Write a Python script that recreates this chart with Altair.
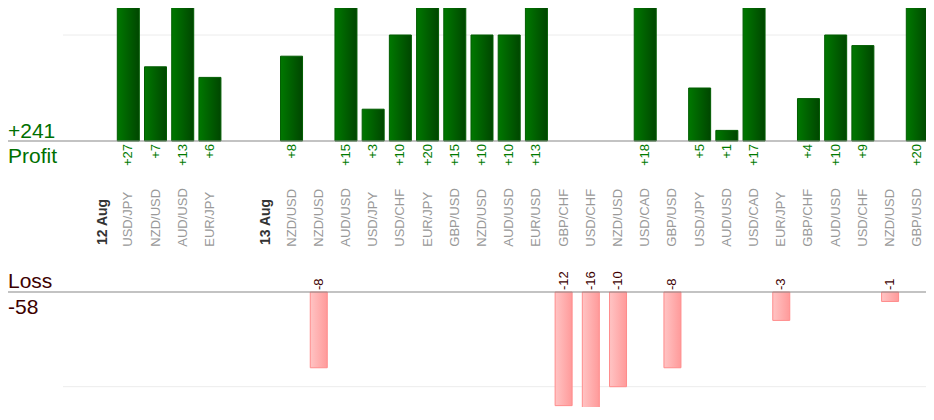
import altair as alt
import pandas as pd

# ---- data ----
slot_labels = ["12 Aug", "USD/JPY", "NZD/USD", "AUD/USD", "EUR/JPY", "", "13 Aug",
               "NZD/USD", "NZD/USD", "AUD/USD", "USD/JPY", "USD/CHF", "EUR/JPY", "GBP/USD",
               "NZD/USD", "AUD/USD", "EUR/USD", "GBP/CHF", "USD/CHF", "NZD/USD", "USD/CAD",
               "GBP/USD", "USD/JPY", "AUD/USD", "USD/CAD", "EUR/JPY", "GBP/CHF", "AUD/USD",
               "USD/CHF", "NZD/USD", "GBP/USD"]
date_slots = [0, 6]
results = [None, 27, 7, 13, 6, None, None,
           8, -8, 15, 3, 10, 20, 15,
           10, 10, 13, -12, -16, -10, 18,
           -8, 5, 1, 17, -3, 4, 10,
           9, -1, 20]
grid_profit = [10]
grid_loss = [-10]

rows = []
for i, (lab, r) in enumerate(zip(slot_labels, results)):
    rows.append({
        "slot": i,
        "label": lab,
        "kind": "date" if i in date_slots else "pair",
        "result": r,
        "txt": (f"+{r}" if r is not None and r > 0 else (str(r) if r is not None else "")),
    })
df = pd.DataFrame(rows)
profit_df = df[df["result"] > 0]
loss_df = df[df["result"] < 0]
total_profit = int(profit_df["result"].sum())
total_loss = int(loss_df["result"].sum())

# ---- scales ----
xs = alt.Scale(domain=[0, 30], range=[93.1, 909.3], nice=False, zero=False, padding=0)
top_scale = alt.Scale(domain=[0, 10], range=[133, 27], nice=False, zero=False)
bot_scale = alt.Scale(domain=[0, -10], range=[284, 378.7], nice=False, zero=False)

W, H = 918, 399
FONT = "Liberation Sans"

green_grad = alt.Gradient(
    gradient="linear",
    stops=[alt.GradientStop(color="#007800", offset=0),
           alt.GradientStop(color="#004600", offset=1)],
    x1=0, x2=1, y1=0, y2=0)
pink_grad = alt.Gradient(
    gradient="linear",
    stops=[alt.GradientStop(color="#ffc4c4", offset=0),
           alt.GradientStop(color="#ff9a9a", offset=1)],
    x1=0, x2=1, y1=0, y2=0)

grid_top = alt.Chart(pd.DataFrame({"v": grid_profit})).mark_rule(color="#ececec", strokeWidth=1).encode(
    y=alt.Y("v:Q", scale=top_scale, axis=None), x=alt.value(55), x2=alt.value(W))
grid_bot = alt.Chart(pd.DataFrame({"v": grid_loss})).mark_rule(color="#ececec", strokeWidth=1).encode(
    y=alt.Y("v:Q", scale=bot_scale, axis=None), x=alt.value(55), x2=alt.value(W))

profit_bars = alt.Chart(profit_df).mark_bar(
    width=22, color=green_grad, stroke="#005c00", strokeWidth=1, clip=True).encode(
    x=alt.X("slot:Q", scale=xs, axis=None),
    y=alt.Y("result:Q", scale=top_scale, axis=None))

loss_bars = alt.Chart(loss_df).mark_bar(
    width=17, color=pink_grad, stroke="#ff8c8c", strokeWidth=1, clip=True).encode(
    x=alt.X("slot:Q", scale=xs, axis=None),
    y=alt.Y("result:Q", scale=bot_scale, axis=None))

zero_df = pd.DataFrame({"v": [0]})
base_top = alt.Chart(zero_df).mark_rule(color="#888888", strokeWidth=1.2).encode(
    y=alt.Y("v:Q", scale=top_scale, axis=None), x=alt.value(0), x2=alt.value(W))
base_bot = alt.Chart(zero_df).mark_rule(color="#888888", strokeWidth=1.2).encode(
    y=alt.Y("v:Q", scale=bot_scale, axis=None), x=alt.value(0), x2=alt.value(W))

profit_txt = alt.Chart(profit_df).mark_text(
    angle=270, align="right", baseline="middle", font=FONT, fontSize=13, color="#007a00").encode(
    x=alt.X("slot:Q", scale=xs, axis=None), y=alt.value(136), text="txt:N")

loss_txt = alt.Chart(loss_df).mark_text(
    angle=270, align="left", baseline="middle", font=FONT, fontSize=13, color="#3d0000").encode(
    x=alt.X("slot:Q", scale=xs, axis=None), y=alt.value(282), text="txt:N")

pair_txt = alt.Chart(df[df["kind"] == "pair"]).mark_text(
    angle=270, align="left", baseline="middle", font=FONT, fontSize=13, color="#999999").encode(
    x=alt.X("slot:Q", scale=xs, axis=None), y=alt.value(238.7), text="label:N")

date_txt = alt.Chart(df[df["kind"] == "date"]).mark_text(
    angle=270, align="left", baseline="middle", font=FONT, fontSize=14, fontWeight="bold",
    color="#333333", dy=2).encode(
    x=alt.X("slot:Q", scale=xs, axis=None), y=alt.value(237), text="label:N")

side_df = pd.DataFrame({
    "t": [f"+{total_profit}", "Profit", "Loss", f"{total_loss}"],
    "c": ["p", "p", "l", "l"],
})
side_cols = alt.Scale(domain=["p", "l"], range=["#007000", "#3d0000"])


def side(i, ypix):
    return alt.Chart(side_df.iloc[[i]]).mark_text(
        align="left", baseline="alphabetic", font=FONT, fontSize=21).encode(
        x=alt.value(0), y=alt.value(ypix), text="t:N",
        color=alt.Color("c:N", scale=side_cols, legend=None))


chart = alt.layer(
    grid_top, grid_bot, profit_bars, loss_bars, base_top, base_bot,
    profit_txt, loss_txt, pair_txt, date_txt,
    side(0, 129.7), side(1, 155), side(2, 279.7), side(3, 306),
).resolve_scale(y="independent").properties(
    width=W, height=H, padding=0, autosize=alt.AutoSizeParams(type="none")
).configure_view(stroke=None)

chart.save("out.html", embed_options={"renderer": "svg", "actions": False})
